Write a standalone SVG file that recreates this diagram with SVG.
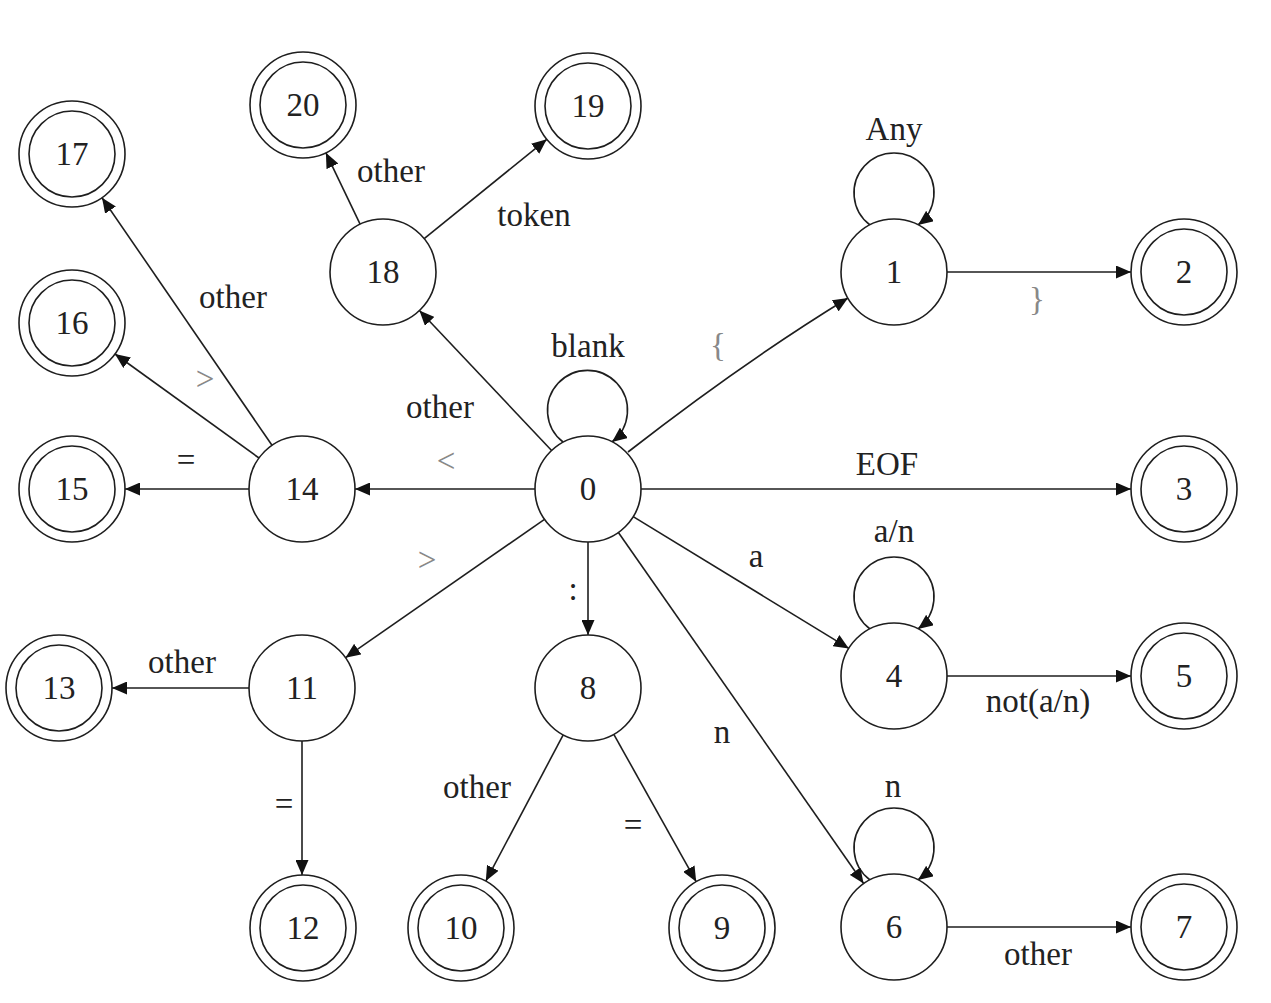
<svg xmlns="http://www.w3.org/2000/svg" width="1271" height="1003" viewBox="0 0 1271 1003">
<style>
.n circle{fill:#fff;stroke:#1e1e1e;stroke-width:1.6}
.t{font-family:"Liberation Serif","Times New Roman",serif;font-size:33px;fill:#222;text-anchor:middle}
.g{fill:#888}
.e path,.e line{fill:none;stroke:#1e1e1e;stroke-width:1.6;marker-end:url(#ah)}
</style>
<defs>
<marker id="ah" markerUnits="userSpaceOnUse" markerWidth="15" markerHeight="13" refX="15" refY="6.5" orient="auto">
<path d="M0,0 L15,6.5 L0,13 z" fill="#111"/>
</marker>
</defs>
<rect width="1271" height="1003" fill="#fff"/>
<g id="connectors" class="e">
<path d="M563,442 A40,40 0 1 1 612,442"/>
<path d="M870,225 A40,40 0 1 1 918,225"/>
<path d="M870,629 A40,40 0 1 1 918,629"/>
<path d="M870,880 A40,40 0 1 1 918,880"/>
<line x1="551.6" y1="450.5" x2="419.4" y2="310.5"/>
<path d="M628,452 Q742,363 848,298"/>
<line x1="641" y1="489" x2="1131" y2="489"/>
<line x1="535" y1="489" x2="355" y2="489"/>
<line x1="633.2" y1="516.6" x2="848.8" y2="648.4"/>
<line x1="618.4" y1="532.5" x2="863.6" y2="883.5"/>
<line x1="588" y1="542" x2="588" y2="635"/>
<line x1="544.5" y1="519.3" x2="345.5" y2="657.7"/>
<line x1="947" y1="272" x2="1131" y2="272"/>
<line x1="947" y1="676" x2="1131" y2="676"/>
<line x1="947" y1="927" x2="1131" y2="927"/>
<line x1="249" y1="489" x2="125" y2="489"/>
<line x1="259" y1="458" x2="115" y2="354"/>
<line x1="272" y1="445.3" x2="102" y2="197.7"/>
<line x1="360.1" y1="224.2" x2="325.9" y2="152.8"/>
<line x1="424.2" y1="238.7" x2="546.8" y2="139.3"/>
<line x1="249" y1="688" x2="112" y2="688"/>
<line x1="302" y1="741" x2="302" y2="875"/>
<line x1="563.2" y1="734.9" x2="485.8" y2="881.1"/>
<line x1="613.8" y1="734.3" x2="696.2" y2="881.7"/>
</g>
<g id="edge-labels" class="t">
<text x="894" y="140">Any</text>
<text x="1037" y="310" class="g">}</text>
<text x="588" y="357">blank</text>
<text x="718" y="356" class="g">{</text>
<text x="440" y="418">other</text>
<text x="534" y="226">token</text>
<text x="391" y="182">other</text>
<text x="233" y="308">other</text>
<text x="205" y="390" class="g">&gt;</text>
<text x="186" y="471">=</text>
<text x="446" y="472" class="g">&lt;</text>
<text x="887" y="475">EOF</text>
<text x="894" y="542">a/n</text>
<text x="756" y="567">a</text>
<text x="427" y="571" class="g">&gt;</text>
<text x="573" y="600">:</text>
<text x="1038" y="712">not(a/n)</text>
<text x="182" y="673">other</text>
<text x="284" y="815">=</text>
<text x="477" y="798">other</text>
<text x="633" y="836">=</text>
<text x="722" y="743">n</text>
<text x="893" y="797">n</text>
<text x="1038" y="965">other</text>
</g>
<g id="node-0" class="n"><circle cx="588" cy="489" r="53"/><text class="t" x="588" y="500">0</text></g>
<g id="node-1" class="n"><circle cx="894" cy="272" r="53"/><text class="t" x="894" y="283">1</text></g>
<g id="node-2" class="n"><circle cx="1184" cy="272" r="53"/><circle cx="1184" cy="272" r="43"/><text class="t" x="1184" y="283">2</text></g>
<g id="node-3" class="n"><circle cx="1184" cy="489" r="53"/><circle cx="1184" cy="489" r="43"/><text class="t" x="1184" y="500">3</text></g>
<g id="node-4" class="n"><circle cx="894" cy="676" r="53"/><text class="t" x="894" y="687">4</text></g>
<g id="node-5" class="n"><circle cx="1184" cy="676" r="53"/><circle cx="1184" cy="676" r="43"/><text class="t" x="1184" y="687">5</text></g>
<g id="node-6" class="n"><circle cx="894" cy="927" r="53"/><text class="t" x="894" y="938">6</text></g>
<g id="node-7" class="n"><circle cx="1184" cy="927" r="53"/><circle cx="1184" cy="927" r="43"/><text class="t" x="1184" y="938">7</text></g>
<g id="node-8" class="n"><circle cx="588" cy="688" r="53"/><text class="t" x="588" y="699">8</text></g>
<g id="node-9" class="n"><circle cx="722" cy="928" r="53"/><circle cx="722" cy="928" r="43"/><text class="t" x="722" y="939">9</text></g>
<g id="node-10" class="n"><circle cx="461" cy="928" r="53"/><circle cx="461" cy="928" r="43"/><text class="t" x="461" y="939">10</text></g>
<g id="node-11" class="n"><circle cx="302" cy="688" r="53"/><text class="t" x="302" y="699">11</text></g>
<g id="node-12" class="n"><circle cx="303" cy="928" r="53"/><circle cx="303" cy="928" r="43"/><text class="t" x="303" y="939">12</text></g>
<g id="node-13" class="n"><circle cx="59" cy="688" r="53"/><circle cx="59" cy="688" r="43"/><text class="t" x="59" y="699">13</text></g>
<g id="node-14" class="n"><circle cx="302" cy="489" r="53"/><text class="t" x="302" y="500">14</text></g>
<g id="node-15" class="n"><circle cx="72" cy="489" r="53"/><circle cx="72" cy="489" r="43"/><text class="t" x="72" y="500">15</text></g>
<g id="node-16" class="n"><circle cx="72" cy="323" r="53"/><circle cx="72" cy="323" r="43"/><text class="t" x="72" y="334">16</text></g>
<g id="node-17" class="n"><circle cx="72" cy="154" r="53"/><circle cx="72" cy="154" r="43"/><text class="t" x="72" y="165">17</text></g>
<g id="node-18" class="n"><circle cx="383" cy="272" r="53"/><text class="t" x="383" y="283">18</text></g>
<g id="node-19" class="n"><circle cx="588" cy="106" r="53"/><circle cx="588" cy="106" r="43"/><text class="t" x="588" y="117">19</text></g>
<g id="node-20" class="n"><circle cx="303" cy="105" r="53"/><circle cx="303" cy="105" r="43"/><text class="t" x="303" y="116">20</text></g>
</svg>
